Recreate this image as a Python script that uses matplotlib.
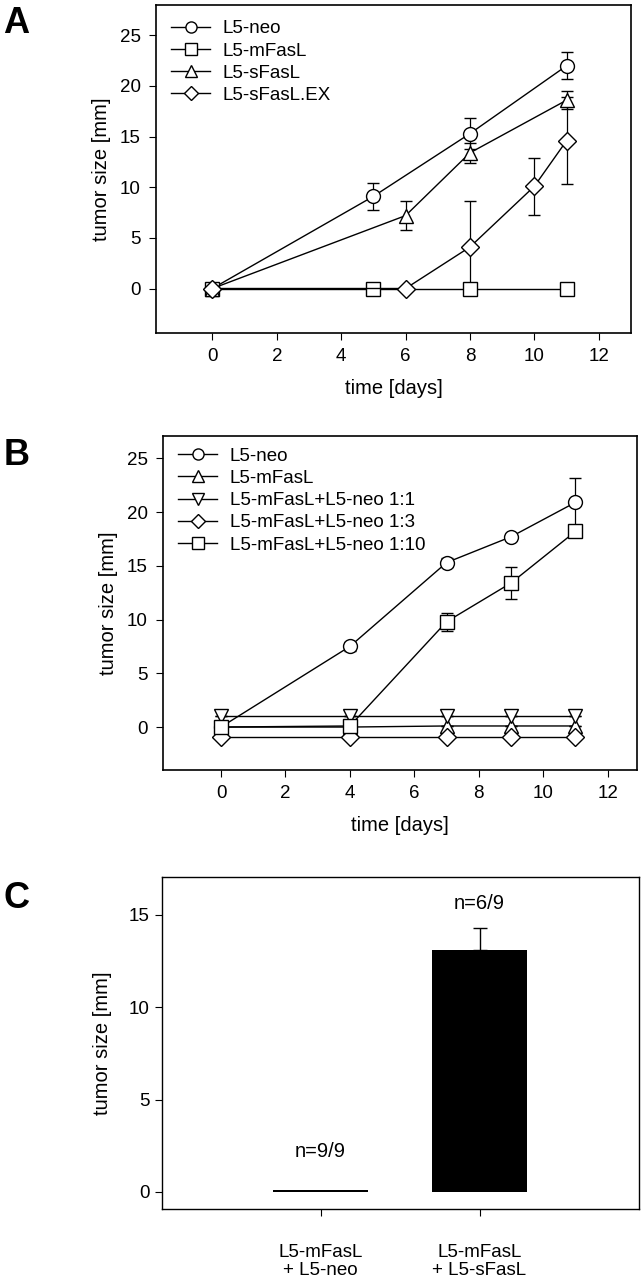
import numpy as np
import matplotlib
matplotlib.use("Agg")
import matplotlib.pyplot as plt

plt.rcParams['font.family'] = ['Liberation Sans', 'DejaVu Sans']
plt.rcParams['font.size'] = 13

# ---- Panel A data ----
a_names = ["L5-neo", "L5-mFasL", "L5-sFasL", "L5-sFasL.EX"]
a_markers = ["o", "s", "^", "D"]
a_x = [[0, 5, 8, 11], [0, 5, 8, 11], [0, 6, 8, 11], [0, 6, 8, 10, 11]]
a_y = [[0, 9.1, 15.3, 22.0], [0, 0, 0, 0], [0, 7.2, 13.4, 18.6], [0, 0, 4.1, 10.1, 14.6]]
a_err = [[0, 1.35, 1.5, 1.35], [0, 0, 0, 0], [0, 1.4, 1.0, 0.9], [0, 0, 4.5, 2.8, 4.3]]

# ---- Panel B data ----
b_names = ["L5-neo", "L5-mFasL", "L5-mFasL+L5-neo 1:1", "L5-mFasL+L5-neo 1:3", "L5-mFasL+L5-neo 1:10"]
b_markers = ["o", "^", "v", "D", "s"]
b_x = [0, 4, 7, 9, 11]
b_y = [[0, 7.5, 15.3, 17.7, 20.9],
       [0, 0, 0.1, 0.1, 0.1],
       [1.0, 1.0, 1.0, 1.0, 1.0],
       [-0.9, -0.9, -0.9, -0.9, -0.9],
       [0, 0.1, 9.8, 13.4, 18.2]]
b_err = [[0, 0.4, 0.4, 0.2, 2.3],
         [0, 0, 0, 0, 0],
         [0, 0, 0, 0, 0],
         [0, 0, 0, 0, 0],
         [0, 0, 0.85, 1.45, 0.5]]

# ---- Panel C data ----
c_labels = ["L5-mFasL\n+ L5-neo", "L5-mFasL\n+ L5-sFasL"]
c_vals = [0.1, 13.1]
c_err = [0.0, 1.2]
c_notes = ["n=9/9", "n=6/9"]
c_note_y = [2.2, 15.6]

fig = plt.figure(figsize=(6.41, 12.8), dpi=100)


def line_panel(ax, xs, ys, errs, names, markers, xlim, ylim, leg_top):
    for x, y, e, n, m in zip(xs, ys, errs, names, markers):
        ms = 9 if m == "D" else 10
        ax.errorbar(x, y, yerr=e, color="black", lw=1, elinewidth=0.9,
                    capsize=4.3, capthick=0.9, marker=m, ms=ms, mfc="white",
                    mec="black", mew=1, label=n, zorder=3)
    ax.set_xlim(*xlim)
    ax.set_ylim(*ylim)
    ax.set_xticks(range(0, 13, 2))
    ax.set_yticks(range(0, 26, 5))
    ax.tick_params(direction="out", length=5, width=0.8, pad=6, labelsize=13.5)
    for s in ax.spines.values():
        s.set_linewidth(1.2)
    ax.set_xlabel("time [days]", fontsize=14.5, labelpad=10)
    ax.set_ylabel("tumor size [mm]", fontsize=14.5, labelpad=6)
    h, l = ax.get_legend_handles_labels()
    h = [hh[0] for hh in h]
    ax.legend(h, l, loc="upper left", bbox_to_anchor=(0.01, leg_top), frameon=False,
              markerscale=0.8, handlelength=2.1, handletextpad=0.65,
              labelspacing=0.27, borderaxespad=0.35, borderpad=0.2, fontsize=13.5)


# Panel A
axA = fig.add_axes([0.2434, 0.7398, 0.741, 0.2563])
line_panel(axA, a_x, a_y, a_err, a_names, a_markers, (-1.75, 13.0), (-4.4, 28.0), 0.985)

# Panel B
axB = fig.add_axes([0.2543, 0.3984, 0.739, 0.2612])
line_panel(axB, [b_x] * 5, b_y, b_err, b_names, b_markers, (-1.8, 12.9), (-4.0, 27.1), 0.995)

# Panel C
axC = fig.add_axes([0.252, 0.0551, 0.7441, 0.26])
pos = np.arange(len(c_vals))
axC.bar(pos, c_vals, width=0.6, color="black", zorder=2)
axC.errorbar(pos[1:], c_vals[1:], yerr=[[0], c_err[1:]], fmt="none", ecolor="black",
             elinewidth=1, capsize=5, capthick=1, zorder=1)
for p, t, yy in zip(pos, c_notes, c_note_y):
    axC.text(p, yy, t, ha="center", va="center", fontsize=14.5)
axC.set_xlim(-1.0, 2.0)
axC.set_ylim(-0.95, 17.07)
axC.set_yticks([0, 5, 10, 15])
axC.set_xticks(pos)
axC.set_xticklabels(c_labels, fontsize=14, linespacing=1.05)
axC.tick_params(direction="out", length=5, width=0.8, labelsize=13.5)
axC.tick_params(axis="x", pad=20)
for s in axC.spines.values():
    s.set_linewidth(1.0)
axC.set_ylabel("tumor size [mm]", fontsize=14.5, labelpad=12)

# panel letters
for lab, yy in zip(["A", "B", "C"], [0.982, 0.644, 0.298]):
    fig.text(0.005, yy, lab, fontsize=26, fontweight="bold", va="center", ha="left")

fig.savefig("out.png", dpi=100)
